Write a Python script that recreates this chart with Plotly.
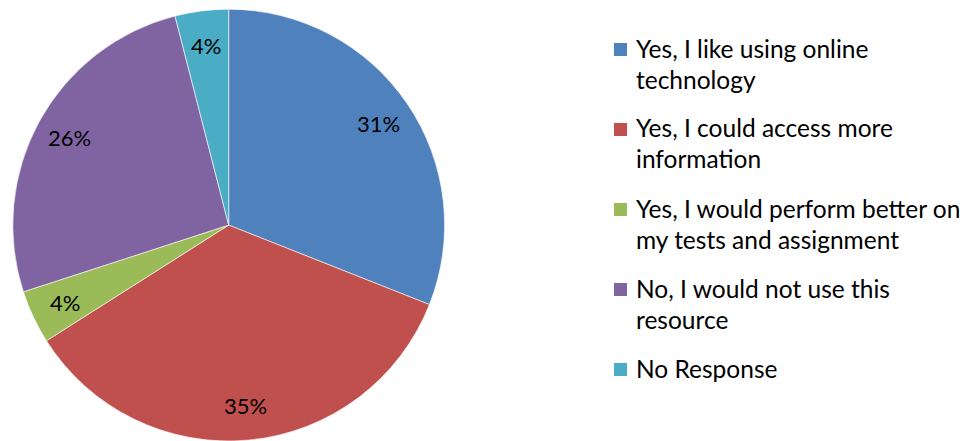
import math
import plotly.graph_objects as go

# Survey responses (share of respondents, %)
categories = [
    "Yes, I like using online<br>technology",
    "Yes, I could access more<br>information",
    "Yes, I would perform better on<br>my tests and assignment",
    "No, I would not use this<br>resource",
    "No Response",
]
shares = [31, 35, 4, 26, 4]
colors = ["#4F81BD", "#C0504D", "#9BBB59", "#8064A2", "#4BACC6"]

W, H = 972, 441
FONT = "Lato"

# Pie placement in pixels (centre and radius)
CX, CY, R = 228.7, 225.2, 216.0
LABEL_RADIUS = 0.84

fig = go.Figure()
fig.add_trace(go.Pie(
    labels=[c.replace("<br>", " ") for c in categories],
    values=shares,
    sort=False,
    direction="clockwise",
    rotation=0,
    marker=dict(colors=colors, line=dict(color="white", width=0.6)),
    textinfo="none",
    domain=dict(x=[(CX - R) / W, (CX + R) / W], y=[(H - CY - R) / H if CY + R < H else 0.0, (H - CY + R) / H]),
    showlegend=False,
    hoverinfo="label+percent",
))

annotations = []

# Percentage labels placed near the outer edge of each slice, on its bisector
total = sum(shares)
cum = 0.0
for v in shares:
    mid = (cum + v / 2) / total * 2 * math.pi
    cum += v
    px = CX + R * LABEL_RADIUS * math.sin(mid)
    py = CY - R * LABEL_RADIUS * math.cos(mid)
    annotations.append(dict(
        xref="paper", yref="paper",
        x=px / W, y=1 - py / H,
        xanchor="center", yanchor="middle",
        text=f"{round(100 * v / total)}%", showarrow=False,
        font=dict(family=FONT, size=22, color="black"),
    ))

# Legend drawn at the right: a coloured square per category and its wrapped text
legend_x_swatch = 614
legend_x_text = 636
first_baseline = 56
item_step = 80
line_step = 31
shapes = []
for i, (cat, col) in enumerate(zip(categories, colors)):
    base = first_baseline + i * item_step
    shapes.append(dict(
        type="rect", xref="paper", yref="paper",
        x0=legend_x_swatch / W, x1=(legend_x_swatch + 13) / W,
        y0=1 - base / H, y1=1 - (base - 13) / H,
        fillcolor=col, line=dict(width=0),
    ))
    for j, line in enumerate(cat.split("<br>")):
        b = base + j * line_step
        annotations.append(dict(
            xref="paper", yref="paper",
            x=(legend_x_text - 2) / W, y=1 - (b - 8) / H,
            xanchor="left", yanchor="middle",
            text=line, showarrow=False,
            font=dict(family=FONT, size=24.5, color="black"),
        ))

fig.update_layout(
    width=W, height=H,
    margin=dict(l=0, r=0, t=0, b=0),
    paper_bgcolor="white",
    plot_bgcolor="white",
    shapes=shapes,
    annotations=annotations,
)

fig.write_html("out.html")
